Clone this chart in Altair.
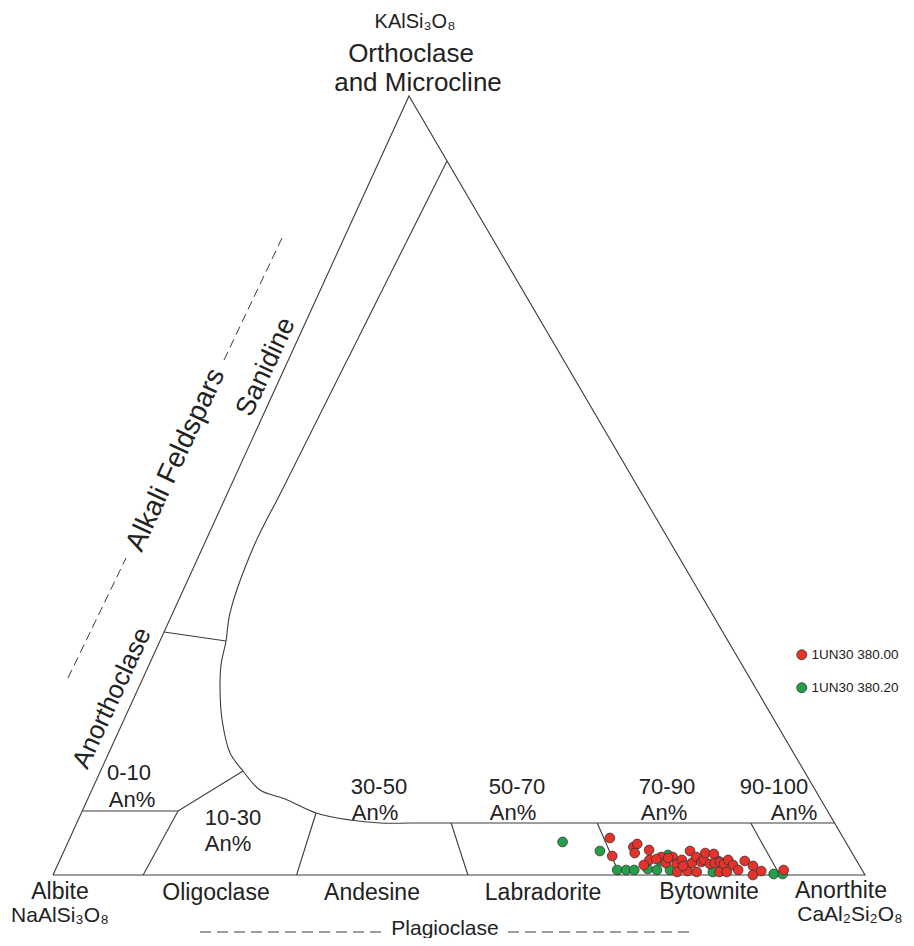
import altair as alt
import pandas as pd

# ---------------- data (ternary compositions, mol %) ----------------
# sample 1UN30 380.00 (red)
red_an = [66.5, 67.8, 69.9, 70.2, 70.4, 72.0, 72.6, 72.2, 73.9, 74.8,
          75.3, 76.2, 76.7, 76.6, 77.9, 77.1, 78.0, 79.1, 78.2, 79.1,
          79.3, 79.1, 80.3, 80.2, 80.8, 81.9, 81.4, 82.0, 82.3, 82.8,
          83.2, 84.1, 84.4, 85.7, 86.2, 87.0, 89.7, 73.4, 74.8, 77.1]
red_or = [4.75, 2.44, 3.59, 3.98, 2.82, 3.21, 1.93, 1.28, 2.31, 1.54,
          2.31, 1.41, 0.39, 1.93, 0.51, 3.08, 1.54, 0.39, 2.31, 1.67,
          1.93, 2.82, 1.41, 2.70, 1.54, 0.39, 1.67, 1.41, 1.93, 0.39,
          1.28, 0.64, 1.80, 1.16, 0.00, 0.51, 0.64, 2.05, 2.18, 1.16]
# sample 1UN30 380.20 (green)
green_an = [60.9, 66.0, 69.2, 70.3, 71.3, 72.9, 74.1, 74.6, 75.7, 81.1,
            81.1, 88.7, 89.8, 74.0]
green_or = [4.24, 3.08, 0.64, 0.64, 0.64, 0.77, 0.64, 2.57, 0.64, 0.39,
            1.80, 0.13, 0.13, 1.80]
series_names = ["1UN30 380.00", "1UN30 380.20"]
series_colors = ["#e5322b", "#25a04a"]

# field boundaries, (An %, Or %)
curve_an = [8.34, 7.28, 6.55, 6.23, 7.05, 8.14, 8.87, 10.16, 12.10, 14.94,
            17.55, 20.71, 24.30, 28.90, 33.48, 37.34, 41.0]
curve_or = [91.66, 66.82, 49.5, 41.98, 33.63, 30.04, 26.96, 23.75, 19.90, 15.66,
            13.35, 10.91, 9.76, 7.96, 7.06, 6.68, 6.68]
segments = {
    "triangle": [(0, 0), (100, 0), (0, 100), (0, 0)],
    "plag_top": [(41.0, 6.68), (93.32, 6.68)],
    "box010": [(0, 8.22), (11.8, 8.22), (17.55, 13.35)],
    "div10": [(11.1, 0), (11.8, 8.22)],
    "div30": [(30.0, 0), (28.9, 7.96)],
    "div50": [(51.1, 0), (46.1, 6.68)],
    "div70": [(69.8, 0), (64.1, 6.68)],
    "div90": [(89.5, 0), (83.0, 6.68)],
    "anorth_san": [(0, 31.2), (8.14, 30.04)],
}

# ---------------- layout (diagram units = page pixels) ----------------
V_AB = (53, 875)
V_AN = (865, 875)
V_OR = (409, 96)


def to_xy(an, orr):
    ab = 100 - an - orr
    x = (ab * V_AB[0] + an * V_AN[0] + orr * V_OR[0]) / 100
    y = (ab * V_AB[1] + an * V_AN[1] + orr * V_OR[1]) / 100
    return x, y


FONT = "Liberation Sans"
INK = "#3c3c3c"

rows = []
for name, pts in segments.items():
    for i, (a, o) in enumerate(pts):
        x, y = to_xy(a, o)
        rows.append({"seg": name, "i": i, "x": x, "y": y})
lines_df = pd.DataFrame(rows)

curve_df = pd.DataFrame(
    [{"i": i, "x": to_xy(a, o)[0], "y": to_xy(a, o)[1]}
     for i, (a, o) in enumerate(zip(curve_an, curve_or))]
)

pts = []
for a, o in zip(green_an, green_or):
    x, y = to_xy(a, o)
    pts.append({"sample": series_names[1], "An": a, "Or": o, "x": x, "y": y})
for a, o in zip(red_an, red_or):
    x, y = to_xy(a, o)
    pts.append({"sample": series_names[0], "An": a, "Or": o, "x": x, "y": y})
pts_df = pd.DataFrame(pts)

dash_df = pd.DataFrame([
    {"seg": "alk1", "i": 0, "x": 68, "y": 678}, {"seg": "alk1", "i": 1, "x": 126, "y": 558},
    {"seg": "alk2", "i": 0, "x": 224, "y": 360}, {"seg": "alk2", "i": 1, "x": 282, "y": 238},
    {"seg": "pl1", "i": 0, "x": 200, "y": 932}, {"seg": "pl1", "i": 1, "x": 382, "y": 932},
    {"seg": "pl2", "i": 0, "x": 508, "y": 932}, {"seg": "pl2", "i": 1, "x": 692, "y": 932},
])

labels = pd.DataFrame([
    {"t": "KAlSi₃O₈", "x": 415, "y": 22, "s": 20, "a": 0},
    {"t": "Orthoclase", "x": 411, "y": 54, "s": 26, "a": 0},
    {"t": "and Microcline", "x": 418, "y": 83, "s": 26, "a": 0},
    {"t": "Alkali Feldspars", "x": 176, "y": 460, "s": 28, "a": 295},
    {"t": "Sanidine", "x": 266, "y": 367, "s": 27, "a": 295},
    {"t": "Anorthoclase", "x": 112, "y": 698, "s": 26, "a": 295},
    {"t": "0-10", "x": 129, "y": 773, "s": 22, "a": 0},
    {"t": "An%", "x": 132, "y": 800, "s": 22, "a": 0},
    {"t": "10-30", "x": 233, "y": 818, "s": 22, "a": 0},
    {"t": "An%", "x": 228, "y": 844, "s": 22, "a": 0},
    {"t": "30-50", "x": 379, "y": 787, "s": 22, "a": 0},
    {"t": "An%", "x": 375, "y": 813, "s": 22, "a": 0},
    {"t": "50-70", "x": 517, "y": 787, "s": 22, "a": 0},
    {"t": "An%", "x": 513, "y": 813, "s": 22, "a": 0},
    {"t": "70-90", "x": 667, "y": 787, "s": 22, "a": 0},
    {"t": "An%", "x": 664, "y": 813, "s": 22, "a": 0},
    {"t": "90-100", "x": 774, "y": 787, "s": 22, "a": 0},
    {"t": "An%", "x": 794, "y": 813, "s": 22, "a": 0},
    {"t": "Albite", "x": 60, "y": 892, "s": 23, "a": 0},
    {"t": "NaAlSi₃O₈", "x": 60, "y": 916, "s": 21, "a": 0},
    {"t": "Oligoclase", "x": 216, "y": 893, "s": 23, "a": 0},
    {"t": "Andesine", "x": 372, "y": 893, "s": 23, "a": 0},
    {"t": "Labradorite", "x": 543, "y": 893, "s": 23, "a": 0},
    {"t": "Bytownite", "x": 709, "y": 892, "s": 23, "a": 0},
    {"t": "Anorthite", "x": 841, "y": 891, "s": 23, "a": 0},
    {"t": "CaAl₂Si₂O₈", "x": 850, "y": 915, "s": 21, "a": 0},
    {"t": "Plagioclase", "x": 445, "y": 929, "s": 21, "a": 0},
])

xs = alt.Scale(domain=[8, 906], nice=False, zero=False)
ys = alt.Scale(domain=[8, 938], nice=False, zero=False, reverse=True)
X = alt.X("x:Q", scale=xs, axis=None)
Y = alt.Y("y:Q", scale=ys, axis=None)

lines = alt.Chart(lines_df).mark_line(color=INK, strokeWidth=1.1).encode(
    x=X, y=Y, detail="seg:N", order="i:Q")
curve = alt.Chart(curve_df).mark_line(color=INK, strokeWidth=1.1,
                                      interpolate="catmull-rom").encode(
    x=X, y=Y, order="i:Q")
dashes_alk = alt.Chart(dash_df[dash_df.seg.str.startswith("alk")]).mark_line(
    color=INK, strokeWidth=1, strokeDash=[9, 5]).encode(
    x=X, y=Y, detail="seg:N", order="i:Q")
dashes_pl = alt.Chart(dash_df[dash_df.seg.str.startswith("pl")]).mark_line(
    color=INK, strokeWidth=1, strokeDash=[11, 6]).encode(
    x=X, y=Y, detail="seg:N", order="i:Q")

text = alt.Chart(labels).mark_text(font=FONT, color="#222", baseline="middle",
                                   align="center").encode(
    x=X, y=Y, text="t:N",
    size=alt.Size("s:Q", scale=None, legend=None),
    angle=alt.Angle("a:Q", scale=None))

points = alt.Chart(pts_df).mark_circle(size=95, opacity=1, stroke="#333",
                                       strokeWidth=0.8).encode(
    x=X, y=Y,
    color=alt.Color("sample:N",
                    scale=alt.Scale(domain=series_names, range=series_colors),
                    legend=alt.Legend(title=None, orient="none", legendX=787,
                                      legendY=640, symbolType="circle",
                                      symbolSize=100, symbolStrokeColor="#333",
                                      symbolStrokeWidth=0.8, symbolOpacity=1,
                                      labelFontSize=13.5, labelFont=FONT,
                                      labelColor="#222", rowPadding=18,
                                      labelOffset=3, labelLimit=300)),
    tooltip=["sample:N", "An:Q", "Or:Q"])

chart = alt.layer(lines, curve, dashes_alk, dashes_pl, text, points).properties(
    width=898, height=930, autosize=alt.AutoSizeParams(type="none"),
    padding=0, background="white"
).configure_view(stroke=None)

chart.save("out.html", embed_options={"renderer": "svg", "actions": False})
